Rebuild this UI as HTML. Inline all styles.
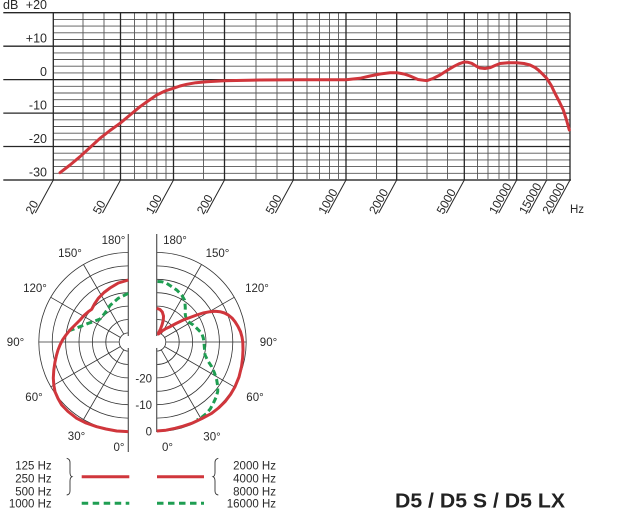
<!DOCTYPE html>
<html><head><meta charset="utf-8"><style>
html,body{margin:0;padding:0;background:#fff;}
svg{display:block;}
text{font-family:"Liberation Sans",Arial,sans-serif;fill:#2a2a2a;}
</style></head><body>
<svg width="620" height="530" viewBox="0 0 620 530" xmlns="http://www.w3.org/2000/svg">
<rect width="620" height="530" fill="#fff"/>
<!-- minor horizontal lines (every 2 dB) -->
<g stroke="#555" stroke-width="0.9">
<line x1="53.3" x2="570" y1="19.4" y2="19.4"/><line x1="53.3" x2="570" y1="26.1" y2="26.1"/><line x1="53.3" x2="570" y1="32.8" y2="32.8"/><line x1="53.3" x2="570" y1="39.5" y2="39.5"/>
<line x1="53.3" x2="570" y1="52.9" y2="52.9"/><line x1="53.3" x2="570" y1="59.5" y2="59.5"/><line x1="53.3" x2="570" y1="66.2" y2="66.2"/><line x1="53.3" x2="570" y1="72.9" y2="72.9"/>
<line x1="53.3" x2="570" y1="86.3" y2="86.3"/><line x1="53.3" x2="570" y1="93.0" y2="93.0"/><line x1="53.3" x2="570" y1="99.7" y2="99.7"/><line x1="53.3" x2="570" y1="106.4" y2="106.4"/>
<line x1="53.3" x2="570" y1="119.8" y2="119.8"/><line x1="53.3" x2="570" y1="126.5" y2="126.5"/><line x1="53.3" x2="570" y1="133.2" y2="133.2"/><line x1="53.3" x2="570" y1="139.8" y2="139.8"/>
<line x1="53.3" x2="570" y1="153.2" y2="153.2"/><line x1="53.3" x2="570" y1="159.9" y2="159.9"/><line x1="53.3" x2="570" y1="166.6" y2="166.6"/><line x1="53.3" x2="570" y1="173.3" y2="173.3"/>
</g>
<!-- minor vertical lines -->
<g stroke="#555" stroke-width="0.9">
<line x1="83" x2="83" y1="12.7" y2="180"/><line x1="104" x2="104" y1="12.7" y2="180"/>
<line x1="134.5" x2="134.5" y1="12.7" y2="180"/><line x1="146.8" x2="146.8" y1="12.7" y2="180"/><line x1="156.8" x2="156.8" y1="12.7" y2="180"/><line x1="166" x2="166" y1="12.7" y2="180"/>
<line x1="203.5" x2="203.5" y1="12.7" y2="180"/>
<line x1="256" x2="256" y1="12.7" y2="180"/><line x1="277" x2="277" y1="12.7" y2="180"/>
<line x1="307" x2="307" y1="12.7" y2="180"/><line x1="319.5" x2="319.5" y1="12.7" y2="180"/><line x1="329.5" x2="329.5" y1="12.7" y2="180"/><line x1="338.5" x2="338.5" y1="12.7" y2="180"/>
<line x1="376.5" x2="376.5" y1="12.7" y2="180"/>
<line x1="427" x2="427" y1="12.7" y2="180"/><line x1="447.5" x2="447.5" y1="12.7" y2="180"/>
<line x1="477.5" x2="477.5" y1="12.7" y2="180"/><line x1="488" x2="488" y1="12.7" y2="180"/><line x1="499" x2="499" y1="12.7" y2="180"/><line x1="509" x2="509" y1="12.7" y2="180"/>
<line x1="546.7" x2="546.7" y1="12.7" y2="180"/>
</g>
<!-- major horizontal lines -->
<g stroke="#262626" stroke-width="1.3">
<line x1="3.3" x2="570" y1="12.7" y2="12.7"/>
<line x1="3.3" x2="570" y1="46.2" y2="46.2"/>
<line x1="3.3" x2="570" y1="79.6" y2="79.6"/>
<line x1="3.3" x2="570" y1="113.1" y2="113.1"/>
<line x1="3.3" x2="570" y1="146.5" y2="146.5"/>
</g>
<line x1="3.3" x2="571" y1="180" y2="180" stroke="#6a6a6a" stroke-width="2"/>
<!-- major vertical lines -->
<g stroke="#262626" stroke-width="1.3">
<line x1="53.3" x2="53.3" y1="12.7" y2="180"/>
<line x1="120.5" x2="120.5" y1="12.7" y2="180"/>
<line x1="173.5" x2="173.5" y1="12.7" y2="180"/>
<line x1="224.5" x2="224.5" y1="12.7" y2="180"/>
<line x1="293.3" x2="293.3" y1="12.7" y2="180"/>
<line x1="346" x2="346" y1="12.7" y2="180"/>
<line x1="396.7" x2="396.7" y1="12.7" y2="180"/>
<line x1="464.3" x2="464.3" y1="12.7" y2="180"/>
<line x1="516.7" x2="516.7" y1="12.7" y2="180"/>
<line x1="570" x2="570" y1="12.7" y2="180"/>
</g>
<!-- slanted tick lines -->
<g stroke="#262626" stroke-width="1">
<line x1="53.3" y1="180" x2="35.3" y2="213"/>
<line x1="120.5" y1="180" x2="102.5" y2="213"/>
<line x1="173.5" y1="180" x2="155.5" y2="213"/>
<line x1="224.5" y1="180" x2="206.5" y2="213"/>
<line x1="293.3" y1="180" x2="275.3" y2="213"/>
<line x1="346" y1="180" x2="328" y2="213"/>
<line x1="396.7" y1="180" x2="378.7" y2="213"/>
<line x1="464.3" y1="180" x2="446.3" y2="213"/>
<line x1="516.7" y1="180" x2="498.7" y2="213"/>
<line x1="546.7" y1="180" x2="528.7" y2="213"/>
<line x1="570" y1="180" x2="552" y2="213"/>
</g>
<!-- tick labels -->
<g font-size="12">
<text transform="translate(32.3,215) rotate(-61)">20</text>
<text transform="translate(99.5,215) rotate(-61)">50</text>
<text transform="translate(152.5,215) rotate(-61)">100</text>
<text transform="translate(203.5,215) rotate(-61)">200</text>
<text transform="translate(272.3,215) rotate(-61)">500</text>
<text transform="translate(325,215) rotate(-61)">1000</text>
<text transform="translate(375.7,215) rotate(-61)">2000</text>
<text transform="translate(443.3,215) rotate(-61)">5000</text>
<text transform="translate(495.7,215) rotate(-61)">10000</text>
<text transform="translate(525.7,215) rotate(-61)">15000</text>
<text transform="translate(549,215) rotate(-61)">20000</text>
</g>
<text x="570" y="213" font-size="11.5">Hz</text>
<!-- y labels -->
<g font-size="12.5" text-anchor="end">
<text x="47" y="9">+20</text>
<text x="47" y="42.7">+10</text>
<text x="47" y="76.1">0</text>
<text x="47" y="109.6">-10</text>
<text x="47" y="143">-20</text>
<text x="47" y="176.5">-30</text>
</g>
<text x="3" y="9" font-size="12.5">dB</text>
<!-- response curve -->
<polyline fill="none" stroke="#d0363c" stroke-width="3" stroke-linejoin="round" stroke-linecap="round"
points="60,172.7 70,165 80,156.7 90,147.5 100,138.3 110,130.5 120,123.3 130,115 140,106.7 148,101 156.7,95 165,91 173.3,88.3 180,86 186.7,84.3 196,82.7 206.7,81.7 224,80.7 260,80 300,79.7 346,79.7 360,78.3 370,76 380,74 390,72.8 396.7,72.7 404,74 410,76 418,79.5 426.7,80.7 433,78.5 440,75 447,70.5 453.3,66.7 459,63.8 464.3,62 468,62.3 471.7,63.3 476,66 480,68 485,68.5 490,67.7 495,65.5 500,63.5 508,62.8 516.7,62.7 524,63.5 530,65 535,67.5 538.3,70 542,73.5 546.7,78.3 551,85 555,93.3 559,101 563.3,110 566.5,120 569.3,130"/>

<!-- POLAR LEFT -->
<g fill="none" stroke="#333" stroke-width="0.8">
<path d="M128.3,252.5 A89.5,89.5 0 0 0 128.3,431.5"/>
<path d="M128.3,265.9 A76.1,76.1 0 0 0 128.3,418.1"/>
<path d="M128.3,279.3 A62.7,62.7 0 0 0 128.3,404.7"/>
<path d="M128.3,292.7 A49.3,49.3 0 0 0 128.3,391.3"/>
<path d="M128.3,306.1 A35.9,35.9 0 0 0 128.3,377.9"/>
<path d="M128.3,319.5 A22.5,22.5 0 0 0 128.3,364.5"/>
<path d="M128.3,332.9 A9.1,9.1 0 0 0 128.3,351.1"/>
<line x1="123.8" y1="349.8" x2="83.5" y2="419.5"/>
<line x1="120.5" y1="346.5" x2="50.8" y2="386.8"/>
<line x1="119.3" y1="342" x2="38.8" y2="342"/>
<line x1="120.5" y1="337.5" x2="50.8" y2="297.3"/>
<line x1="123.8" y1="334.2" x2="83.5" y2="264.5"/>
<!-- right -->
<path d="M156.7,252.5 A89.5,89.5 0 0 1 156.7,431.5"/>
<path d="M156.7,265.9 A76.1,76.1 0 0 1 156.7,418.1"/>
<path d="M156.7,279.3 A62.7,62.7 0 0 1 156.7,404.7"/>
<path d="M156.7,292.7 A49.3,49.3 0 0 1 156.7,391.3"/>
<path d="M156.7,306.1 A35.9,35.9 0 0 1 156.7,377.9"/>
<path d="M156.7,319.5 A22.5,22.5 0 0 1 156.7,364.5"/>
<path d="M156.7,332.9 A9.1,9.1 0 0 1 156.7,351.1"/>
<line x1="161.2" y1="349.8" x2="201.5" y2="419.5"/>
<line x1="164.5" y1="346.5" x2="234.2" y2="386.8"/>
<line x1="165.7" y1="342" x2="246.2" y2="342"/>
<line x1="164.5" y1="337.5" x2="234.2" y2="297.3"/>
<line x1="161.2" y1="334.2" x2="201.5" y2="264.5"/>
</g>
<!-- axes -->
<g stroke="#555" stroke-width="1.2">
<line x1="128.3" y1="234" x2="128.3" y2="452"/>
<line x1="156.7" y1="234" x2="156.7" y2="432"/>
</g>
<circle cx="128.3" cy="342" r="6" fill="#fff"/>
<circle cx="156.7" cy="342" r="6" fill="#fff"/>
<!-- polar curves -->
<polyline fill="none" stroke="#1f9e52" stroke-width="3" stroke-dasharray="6 3.5"
points="128.3,293.3 118.3,298.3 110,305.5 105,313 100,319 94,321.5 88.3,323.3 80,326.7 74,329 67,331.5"/>
<polyline fill="none" stroke="#d0363c" stroke-width="3" stroke-linejoin="round"
points="128.3,280 118.3,283 110,288 104,292.5 98.3,298.3 94.5,304 91.7,309.3 88.3,311.7 84,315.5 80,320 75,325 70,330 66,335 62.5,340 60,345 58,350 56.3,356 55,362 53.8,370 53.3,378 53.8,385 55,391.7 58,398.5 61.7,405 68,411.5 76.7,418.3 86,423 96.7,426.7 106,429 116.7,431 128.3,431.7"/>
<polyline fill="none" stroke="#1f9e52" stroke-width="3" stroke-dasharray="6 3.5"
points="157.5,281.5 161.7,281.7 166.7,283.3 171.5,286.5 176.7,290 181.7,295 184.5,300 185,303.3 185.3,308 185,311.7 185.5,316 186.7,320 189.5,322.5 193.3,325 197.5,329 201.7,333.3 203.3,338 204,343 205,355 208,361 211.7,366.7 214.5,373 216.7,380 217.7,386 217.7,391.7 216,397.5 213.3,403.3 210.5,408.5 206.7,413.3 202,417 197,420"/>
<polyline fill="none" stroke="#d0363c" stroke-width="3" stroke-linejoin="round"
points="156.7,308.3 160,309.5 162.3,312 163.5,316 163.3,320 162,325 160.5,329 158.5,333 158.5,334 162,331 166,328.5 170,326.7 176,323.5 183.3,320 190,317.5 196.7,315 203,313 210,311.7 215,311.3 220,311.7 224.5,313 228.3,315 232,318 235,321.7 238,326.5 240.5,331.7 242,337 242.8,342 243,350 242.6,358 241.5,366.7 239,377 235,386.7 230.5,394.5 225,401.7 218.5,408 211.7,413.3 202,418.5 191.7,423.3 183,426.2 175,428.3 166,430.2 156.7,431"/>
<!-- polar labels -->
<g font-size="11.5" text-anchor="middle">
<text x="119" y="451">0°</text>
<text x="76.5" y="440">30°</text>
<text x="34" y="401">60°</text>
<text x="15.5" y="346">90°</text>
<text x="35" y="292">120°</text>
<text x="70" y="257">150°</text>
<text x="113.5" y="244">180°</text>
<text x="175" y="244">180°</text>
<text x="217.5" y="257">150°</text>
<text x="257" y="292">120°</text>
<text x="268.5" y="346">90°</text>
<text x="255" y="401">60°</text>
<text x="212" y="440.5">30°</text>
<text x="167.5" y="451">0°</text>
</g>
<g font-size="11.5" text-anchor="end">
<text x="152" y="382.3">-20</text>
<text x="152" y="409">-10</text>
<text x="152" y="435.7">0</text>
</g>
<!-- legend -->
<g font-size="11.5" text-anchor="end">
<text x="51.7" y="469.3">125 Hz</text>
<text x="51.7" y="482.3">250 Hz</text>
<text x="51.7" y="495.3">500 Hz</text>
<text x="51.7" y="507.5">1000 Hz</text>
<text x="276" y="469.3">2000 Hz</text>
<text x="276" y="482.3">4000 Hz</text>
<text x="276" y="495.3">8000 Hz</text>
<text x="276" y="507.5">16000 Hz</text>
</g>
<g fill="none" stroke="#333" stroke-width="0.9">
<path d="M66.7,458.3 Q70,459 70,462.5 L70,472.5 Q70,476 72,476.7 Q70,477.4 70,481 L70,491 Q70,494.5 66.7,495"/>
<path d="M218.3,458.3 Q215,459 215,462.5 L215,472.5 Q215,476 213,476.7 Q215,477.4 215,481 L215,491 Q215,494.5 218.3,495"/>
</g>
<line x1="81.7" y1="476.7" x2="129.3" y2="476.7" stroke="#d0363c" stroke-width="3"/>
<line x1="157" y1="476.7" x2="204" y2="476.7" stroke="#d0363c" stroke-width="3"/>
<line x1="81.7" y1="503.3" x2="129.3" y2="503.3" stroke="#1f9e52" stroke-width="3" stroke-dasharray="6.5 4.5"/>
<line x1="157" y1="503.3" x2="204" y2="503.3" stroke="#1f9e52" stroke-width="3" stroke-dasharray="6.5 4.5"/>
<!-- title -->
<text x="395" y="507.7" font-size="20.5" font-weight="bold" textLength="170" lengthAdjust="spacingAndGlyphs" style="fill:#222">D5 / D5 S / D5 LX</text>
</svg>
</body></html>
